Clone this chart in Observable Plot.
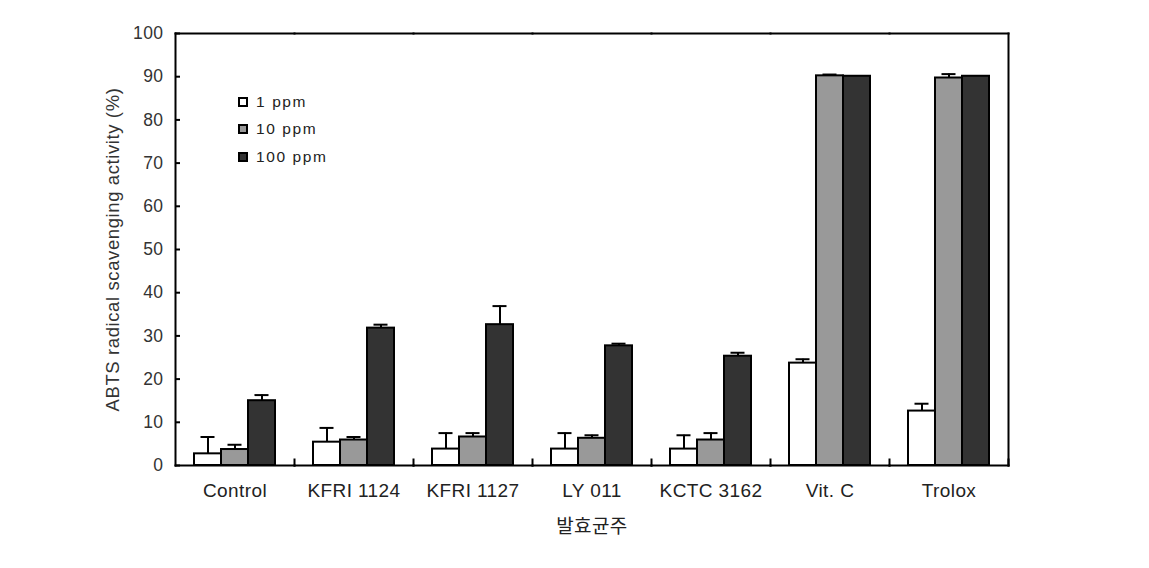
<!DOCTYPE html>
<html><head><meta charset="utf-8">
<script src="https://cdn.jsdelivr.net/npm/d3@7"></script>
<script src="https://cdn.jsdelivr.net/npm/@observablehq/plot@0.6"></script>
<style>
body{margin:0;background:#fff;}
#wrap{position:relative;width:1149px;height:568px;}
#legend{position:absolute;left:238px;top:88px;font-family:"Liberation Sans",Arial,sans-serif;font-size:15.5px;letter-spacing:1.6px;color:#222;}
.row{display:flex;align-items:center;height:27.5px;}
.sw{width:6px;height:6px;border:2px solid #000;margin-right:8px;}
svg text{letter-spacing:0.4px;}
g[aria-label="y-axis label"] text{font-size:18.5px;letter-spacing:0.6px;}
</style></head>
<body><div id="wrap"><div id="legend"></div></div>
<script>
const strains = ["Control","KFRI 1124","KFRI 1127","LY 011","KCTC 3162","Vit. C","Trolox"];
const doses = ["1 ppm","10 ppm","100 ppm"];
const doseColors = ["#ffffff","#999999","#333333"];
const mean1   = [2.7, 5.4, 3.8, 3.8, 3.8, 23.7, 12.6];
const err1    = [3.9, 3.3, 3.7, 3.7, 3.2, 0.9, 1.7];
const mean10  = [3.7, 5.9, 6.6, 6.3, 5.9, 90.2, 89.7];
const err10   = [1.1, 0.7, 0.9, 0.7, 1.6, 0.3, 0.9];
const mean100 = [15.0, 31.8, 32.6, 27.7, 25.3, 90.1, 90.1];
const err100  = [1.3, 0.8, 4.3, 0.5, 0.8, 0, 0];
const yTicks = [0,10,20,30,40,50,60,70,80,90,100];
const yLabel = "ABTS radical scavenging activity (%)";
const xLabel = "발효균주";

const series = [[mean1,err1],[mean10,err10],[mean100,err100]];
const data = [];
strains.forEach((s,i) => series.forEach(([m,e],j) => data.push({strain:s, dose:doses[j], value:m[i], err:e[i]})));
const errData = data.filter(d => d.err > 0);

const font = "'Liberation Sans', Arial, 'Noto Sans CJK KR', sans-serif";
const chart = Plot.plot({
  width: 1149, height: 568,
  marginLeft: 173, marginRight: 139, marginTop: 33, marginBottom: 103,
  style: {fontFamily: font, fontSize: "17px", color: "#222", background: "#fff", overflow: "visible"},
  fx: {domain: strains, padding: 0},
  x: {domain: doses, axis: null, paddingInner: 0, paddingOuter: 0.66},
  y: {domain: [0, 100]},
  color: {domain: doses, range: doseColors},
  marks: [
    Plot.barY(data, {fx: "strain", x: "dose", y: "value", fill: "dose", stroke: "#000", strokeWidth: 2}),
    Plot.ruleX(errData, {fx: "strain", x: "dose", y1: "value", y2: d => d.value + d.err, stroke: "#000", strokeWidth: 2}),
    Plot.tickY(errData, {fx: "strain", x: "dose", y: d => d.value + d.err, stroke: "#000", strokeWidth: 2, insetLeft: 6.5, insetRight: 6.5}),
    Plot.frame({anchor: "top", stroke: "#000", strokeWidth: 2}),
    Plot.frame({anchor: "bottom", stroke: "#000", strokeWidth: 2}),
    Plot.frame({anchor: "left", facetAnchor: "left", stroke: "#000", strokeWidth: 2}),
    Plot.frame({anchor: "right", facetAnchor: "right", stroke: "#000", strokeWidth: 2}),
    Plot.frame({anchor: "right", insetTop: 426, stroke: "#000", strokeWidth: 2}),
    Plot.axisY({ticks: yTicks, tickSize: 0, tickPadding: 12, fontSize: 17.5, fill: "#333",
      label: yLabel, labelAnchor: "center", labelArrow: "none", labelOffset: 70}),
    Plot.axisY({ticks: yTicks, tickSize: 5, dx: 5, tickFormat: () => "", label: null, stroke: "#000", strokeWidth: 2}),
    Plot.axisFx({anchor: "bottom", tickSize: 0, tickPadding: 18, fontSize: 19, fill: "#222",
      label: xLabel, labelAnchor: "center", labelArrow: "none", labelOffset: 67})
  ]
});
document.getElementById("wrap").prepend(chart);

const legend = document.getElementById("legend");
doses.forEach((d,i) => {
  const row = document.createElement("div"); row.className = "row";
  const sw = document.createElement("div"); sw.className = "sw"; sw.style.background = doseColors[i];
  const t = document.createElement("span"); t.textContent = d;
  row.append(sw, t); legend.append(row);
});
</script>
</body></html>
